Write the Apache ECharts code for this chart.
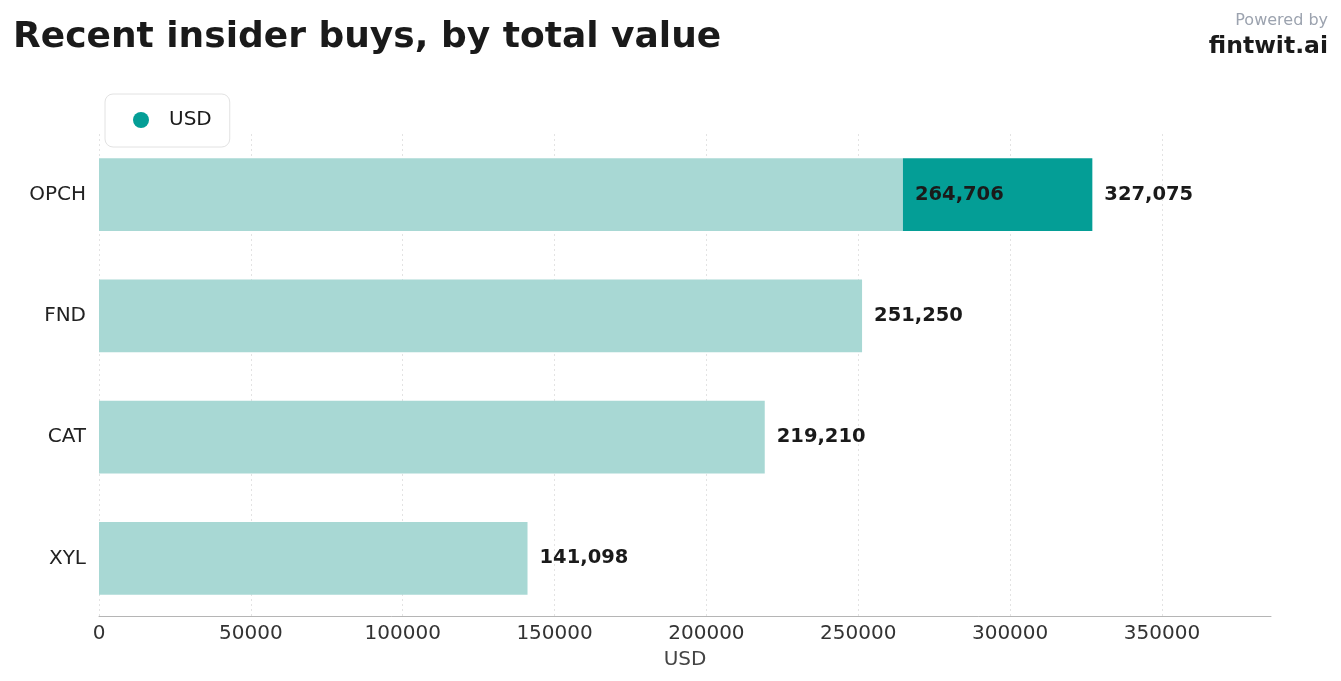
<!DOCTYPE html>
<html>
<head>
<meta charset="utf-8">
<script src="https://cdn.jsdelivr.net/npm/echarts@6/dist/echarts.min.js"></script>
<style>
  html, body { margin: 0; padding: 0; background: #fff; }
  #chart { width: 1341px; height: 681px; }
</style>
</head>
<body>
<div id="chart"></div>
<script>
// data
const categories = ['XYL', 'CAT', 'FND', 'OPCH'];
const baseValues = [141098, 219210, 251250, 264706];
const totalValues = [141098, 219210, 251250, 327075];
const xTicks = [0, 50000, 100000, 150000, 200000, 250000, 300000, 350000];

const lightColor = '#a8d8d4';
const darkColor = '#049e96';
const font = 'DejaVu Sans';

function fmt(v) {
  return v.toLocaleString('en-US');
}

// the dark part is what sits on top of the base bar
const extraValues = totalValues.map((t, i) => {
  let d = t - baseValues[i];
  return d > 0 ? d : null;
});

const chart = echarts.init(document.getElementById('chart'), null, { renderer: 'canvas' });

let option = {
  backgroundColor: '#fff',
  animation: false,
  textStyle: { fontFamily: font },
  title: [
    {
      text: 'Recent insider buys, by total value',
      left: 8, top: 15,
      textStyle: { fontFamily: font, fontSize: 36, fontWeight: 'bold', color: '#1a1a1a' }
    },
    {
      text: 'Powered by',
      right: 8, top: 8,
      textStyle: { fontFamily: font, fontSize: 16, fontWeight: 'normal', color: '#9ca3af' }
    },
    {
      text: 'fintwit.ai',
      right: 8, top: 30,
      textStyle: { fontFamily: font, fontSize: 23.5, fontWeight: 'bold', color: '#1a1a1a' }
    }
  ],
  legend: {
    data: ['USD'],
    left: 105, top: 94,
    padding: [16, 18, 17, 28],
    borderColor: '#e2e2e2',
    borderWidth: 1,
    borderRadius: 8,
    icon: 'circle',
    itemWidth: 16, itemHeight: 16,
    textStyle: { fontFamily: font, fontSize: 20, color: '#1a1a1a', padding: [0, 0, 0, 15] }
  },
  grid: { left: 99, right: 70, top: 134, bottom: 62 },
  xAxis: {
    type: 'value',
    min: xTicks[0],
    max: 385900,
    interval: xTicks[1] - xTicks[0],
    offset: -3,
    name: 'USD',
    nameLocation: 'middle',
    nameGap: 34,
    nameTextStyle: { fontFamily: font, fontSize: 20, color: '#444' },
    axisLine: { show: true, lineStyle: { color: '#b5b5b5', width: 1 } },
    axisTick: { show: false },
    axisLabel: {
      fontFamily: font, fontSize: 20, color: '#333', margin: 8,
      showMaxLabel: false,
      formatter: v => String(v)
    },
    splitLine: {
      show: true,
      showMaxLine: false,
      lineStyle: { color: '#e3e3e3', type: [2, 3], width: 1 }
    }
  },
  yAxis: {
    type: 'category',
    data: categories,
    axisLine: { show: false },
    axisTick: { show: false },
    axisLabel: { fontFamily: font, fontSize: 20, color: '#222', margin: 13 },
    splitLine: { show: false }
  },
  series: [
    {
      name: 'base',
      type: 'bar',
      stack: 'total',
      barWidth: '60%',
      itemStyle: { color: lightColor },
      data: baseValues
    },
    {
      name: 'USD',
      type: 'bar',
      stack: 'total',
      barWidth: '60%',
      itemStyle: { color: darkColor },
      label: {
        show: true,
        position: 'insideLeft',
        distance: 12,
        fontFamily: font, fontSize: 19.5, fontWeight: 'bold', color: '#1a1a1a',
        formatter: p => fmt(baseValues[p.dataIndex])
      },
      data: extraValues
    },
    {
      // invisible points that carry the total labels
      name: 'totals',
      type: 'scatter',
      symbolSize: 0,
      silent: true,
      itemStyle: { opacity: 1 },
      label: {
        show: true,
        position: 'right',
        distance: 12,
        fontFamily: font, fontSize: 19.5, fontWeight: 'bold', color: '#1a1a1a',
        formatter: p => fmt(p.value[0])
      },
      data: totalValues.map((v, i) => [v, categories[i]])
    }
  ]
};

chart.setOption(option);
</script>
</body>
</html>
